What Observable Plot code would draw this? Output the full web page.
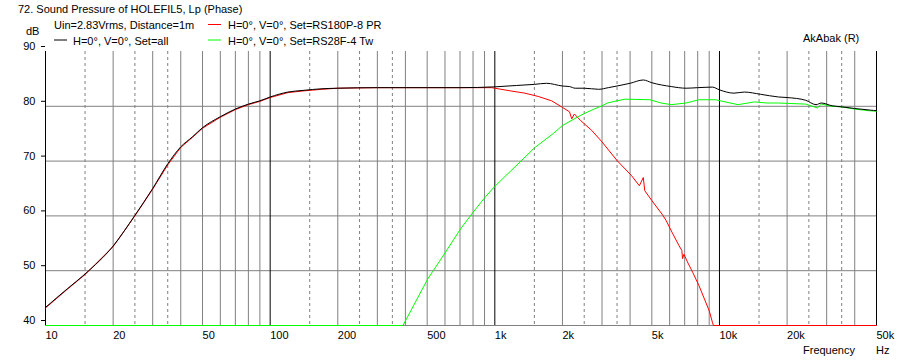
<!DOCTYPE html>
<html>
<head>
<meta charset="utf-8">
<script src="https://cdn.jsdelivr.net/npm/d3@7"></script>
<script src="https://cdn.jsdelivr.net/npm/@observablehq/plot@0.6"></script>
<style>
  html, body { margin: 0; padding: 0; background: #fff; }
  #chart { width: 899px; height: 363px; position: relative; }
  svg text { font-family: "Liberation Sans", Arial, sans-serif; }
</style>
</head>
<body>
<div id="chart"></div>
<script>
// ---------- data ----------
const freqAll = [10, 12.5, 15, 20, 25, 30, 35, 40, 45, 50, 60, 70, 80, 90, 100, 120, 140, 170, 200, 300, 500, 700, 1000, 1250, 1500, 1700, 2000, 2150, 2280, 2500, 2900, 3200, 3500, 4000, 4580, 5000, 6100, 7100, 8000, 9300, 10000, 11600, 12900, 15200, 18300, 20000, 24200, 26900, 28400, 31700, 35000, 40000, 47000, 50000];
const splAll  = [43.3, 46.7, 49.4, 54.5, 60.1, 65.0, 69.5, 72.6, 74.4, 76.1, 78.1, 79.5, 80.4, 81.0, 81.7, 82.6, 82.9, 83.2, 83.3, 83.4, 83.4, 83.4, 83.55, 83.8, 84.0, 84.2, 83.7, 83.6, 83.3, 83.3, 83.1, 83.4, 83.7, 84.2, 84.8, 84.3, 83.6, 83.3, 83.4, 83.5, 83.0, 82.4, 82.6, 82.2, 81.7, 81.6, 81.1, 80.3, 80.6, 80.1, 79.9, 79.6, 79.3, 79.2];

const freqWoofer = [10, 12.5, 15, 20, 25, 30, 35, 40, 45, 50, 60, 70, 80, 90, 100, 120, 140, 170, 200, 300, 500, 700, 967, 1180, 1360, 1560, 1790, 2000, 2150, 2200, 2260, 2410, 2700, 3000, 3500, 4050, 4400, 4580, 4650, 5000, 5600, 5780, 6150, 6600, 6800, 6850, 6950, 7200, 7600, 8100, 8500, 9000, 9300, 9400, 50000];
const splWoofer  = [43.2, 46.6, 49.3, 54.4, 60.0, 64.9, 69.3, 72.5, 74.3, 76.0, 78.0, 79.4, 80.3, 80.9, 81.6, 82.5, 82.8, 83.1, 83.3, 83.4, 83.4, 83.4, 83.4, 82.8, 82.4, 81.8, 81.0, 79.8, 79.0, 77.7, 78.6, 77.4, 75.6, 73.5, 70.1, 67.4, 65.5, 67.0, 64.6, 62.8, 60.1, 59.2, 57.0, 54.6, 53.7, 52.2, 53.0, 51.6, 49.7, 47.3, 45.2, 42.7, 40.6, 40, 40];

const freqTweeter = [10, 390, 503, 604, 703, 802, 905, 1000, 1270, 1500, 1830, 2000, 2400, 2600, 2770, 3000, 3170, 3500, 3800, 4900, 5500, 6100, 7100, 7600, 8100, 9600, 10600, 12100, 14300, 16300, 18300, 21000, 24200, 27300, 28400, 31700, 35000, 40000, 46000, 50000];
const splTweeter  = [40, 40, 48.5, 53.4, 57.6, 60.7, 63.4, 65.4, 69.5, 72.4, 75.1, 76.5, 78.3, 79.0, 79.5, 80.1, 80.6, 81.0, 81.3, 81.2, 80.6, 80.3, 80.6, 80.9, 81.2, 81.2, 80.8, 80.3, 80.8, 80.6, 80.6, 80.5, 80.4, 79.7, 80.4, 80.0, 79.9, 79.5, 79.2, 79.1];

const xTickValues = [10, 20, 50, 100, 200, 500, 1000, 2000, 5000, 10000, 20000, 50000];
const xTickLabels = ["10", "20", "50", "100", "200", "500", "1k", "2k", "5k", "10k", "20k", "50k"];
const yTickValues = [40, 50, 60, 70, 80, 90];
const decadeLines = [10, 100, 1000, 10000, 50000];
const solidGrid = [20, 30, 40, 50, 60, 70, 80, 90, 200, 300, 400, 500, 600, 700, 800, 900, 2000, 3000, 4000, 5000, 6000, 7000, 8000, 9000, 20000, 30000, 40000];
const dashedGrid = [15, 25, 35, 150, 250, 350, 1500, 2500, 3500, 15000, 25000, 35000];
const hGrid = [40, 50, 60, 70, 80];

const titleText = "72. Sound Pressure of HOLEFIL5, Lp (Phase)";
const legendItems = [
  {label: "Uin=2.83Vrms, Distance=1m", color: null},
  {label: "H=0°, V=0°, Set=RS180P-8 PR", color: "#ff0000"},
  {label: "H=0°, V=0°, Set=all", color: "#000000"},
  {label: "H=0°, V=0°, Set=RS28F-4 Tw", color: "#00ff00"}
];

// ---------- chart ----------
const toRows = (fs, vs) => fs.map((f, i) => ({f, v: vs[i]}));
const xTickRows = xTickValues.map((v, i) => ({v, label: xTickLabels[i]}));
const gray = "#808080";

const plot = Plot.plot({
  width: 899,
  height: 363,
  marginLeft: 45,
  marginRight: 23,
  marginTop: 51,
  marginBottom: 38,
  style: {fontSize: "11px", fontFamily: "'Liberation Sans', Arial, sans-serif", background: "#fff", color: "#000"},
  x: {type: "log", domain: [10, 50000], axis: null},
  y: {domain: [40, 90]},
  marks: [
    Plot.ruleY(hGrid, {stroke: gray, strokeWidth: 1, strokeOpacity: 1}),
    Plot.ruleX(solidGrid, {stroke: gray, strokeWidth: 1, strokeOpacity: 1}),
    Plot.ruleX(dashedGrid, {stroke: gray, strokeWidth: 1, strokeOpacity: 1, strokeDasharray: "3,3"}),
    Plot.ruleX(decadeLines, {stroke: "#000", strokeWidth: 1, strokeOpacity: 1}),
    Plot.line(toRows(freqWoofer, splWoofer), {x: "f", y: "v", stroke: "#ff0000", strokeWidth: 1}),
    Plot.line(toRows(freqTweeter, splTweeter), {x: "f", y: "v", stroke: "#00ff00", strokeWidth: 1}),
    Plot.line(toRows(freqAll, splAll), {x: "f", y: "v", stroke: "#000", strokeWidth: 1, curve: "monotone-x"}),
    Plot.text(xTickRows, {x: "v", text: "label", frameAnchor: "bottom", dy: 13.5, textAnchor: "start", fill: "#000", fontSize: 11}),
    Plot.axisY(yTickValues, {tickSize: 4, tickPadding: 6, dy: -5, stroke: "#000", label: null})
  ]
});

const chart = document.getElementById("chart");
chart.appendChild(plot);

const svg = d3.select(plot);
const addText = (x, y, t, anchor) => svg.append("text")
  .attr("x", x).attr("y", y).attr("font-size", 11).attr("fill", "#000")
  .attr("text-anchor", anchor || "start").text(t);

addText(18, 12.5, titleText);
addText(26, 35, "dB");
addText(803, 42, "AkAbak (R)");
addText(803, 354, "Frequency");
addText(876, 354, "Hz");

// legend: two columns, two rows
const legPos = [
  {x: 54, y: 29, sx: null},
  {x: 228, y: 29, sx: 208},
  {x: 73, y: 44.5, sx: 54},
  {x: 228, y: 44.5, sx: 208}
];
legendItems.forEach((it, i) => {
  const p = legPos[i];
  addText(p.x, p.y, it.label);
  if (it.color) {
    svg.append("line").attr("x1", p.sx).attr("x2", p.sx + 13)
      .attr("y1", p.y - 4.5).attr("y2", p.y - 4.5)
      .attr("stroke", it.color).attr("stroke-width", 1);
  }
});
</script>
</body>
</html>
